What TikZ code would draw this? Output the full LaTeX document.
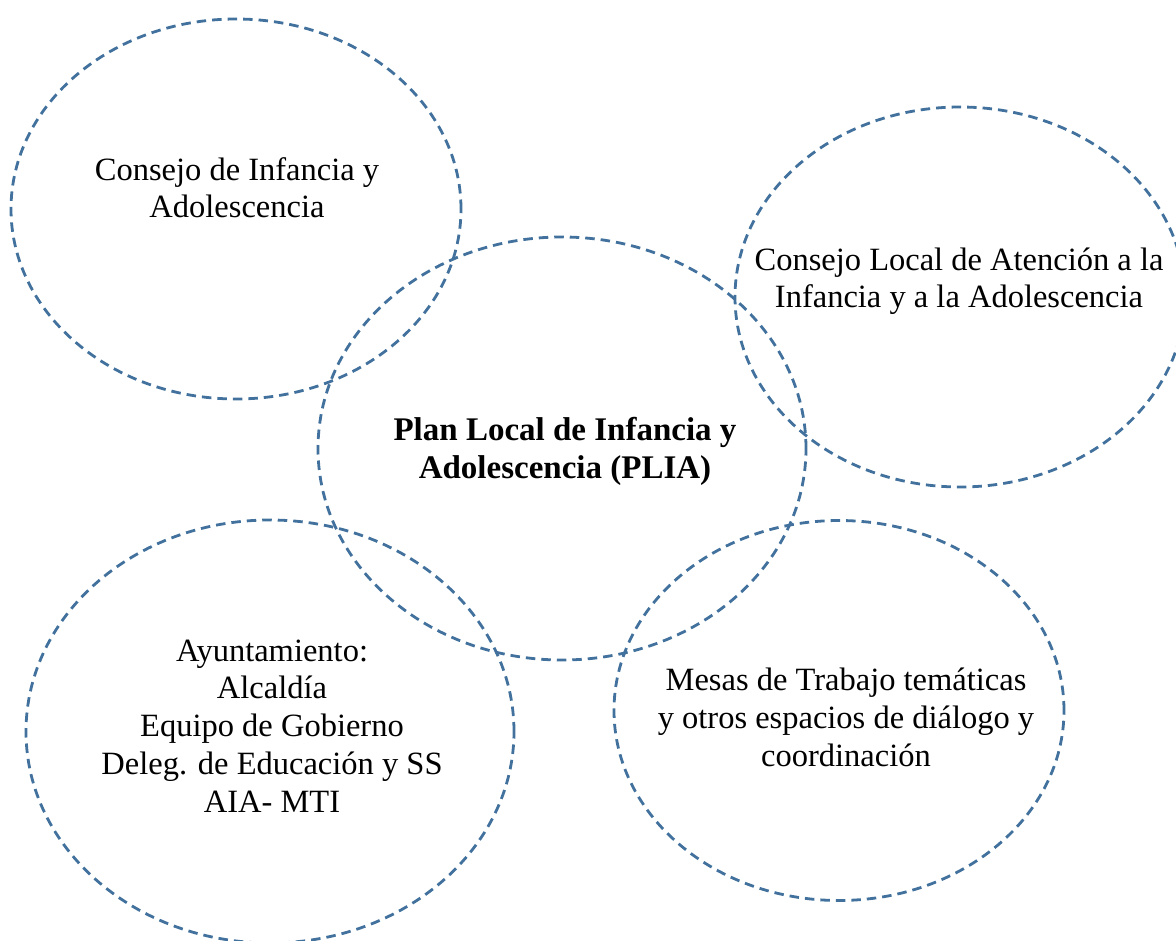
\documentclass[tikz,border=0pt]{standalone}
\usepackage{fontspec}
\setmainfont{Liberation Serif}
\usetikzlibrary{shapes.geometric}
\definecolor{ringblue}{RGB}{65,113,156}
\tikzset{
  ring/.style={ellipse, draw=ringblue, line width=2.8pt, dash pattern=on 9.5pt off 6pt, inner sep=0pt, outer sep=0pt},
  small/.style={ring, minimum width=450pt, minimum height=380pt},
  big/.style={ring, minimum width=488pt, minimum height=423pt},
  lbl/.style={align=center, anchor=base, inner sep=0pt, font=\fontsize{32.5}{37.7}\selectfont},
  blbl/.style={lbl, font=\fontsize{33}{38}\selectfont\bfseries}
}
\begin{document}
\begin{tikzpicture}[x=1pt,y=-1pt]
\useasboundingbox (0,0) rectangle (1176,941);
\clip (0,0) rectangle (1176,941);
\node[small] (e1) at (236,209) {};
\node[big]   (e2) at (562,448.5) {};
\node[small] (e3) at (960,297) {};
\node[big]   (e4) at (270,731.5) {};
\node[small] (e5) at (839,710.5) {};
\node[lbl]  (t1) at (237,218) {Consejo de Infancia y\\Adolescencia};
\node[blbl] (t2) at (565,478) {Plan Local de Infancia y\\Adolescencia (PLIA)};
\node[lbl]  (t3) at (959,308) {Consejo Local de Atención a la\\Infancia y a la Adolescencia};
\node[lbl]  (t4) at (272,812) {Ayuntamiento:\\Alcaldía\\Equipo de Gobierno\\Deleg. de Educación y SS\\AIA- MTI};
\node[lbl]  (t5) at (846,766) {Mesas de Trabajo temáticas\\y otros espacios de diálogo y\\coordinación};
\end{tikzpicture}
\end{document}
